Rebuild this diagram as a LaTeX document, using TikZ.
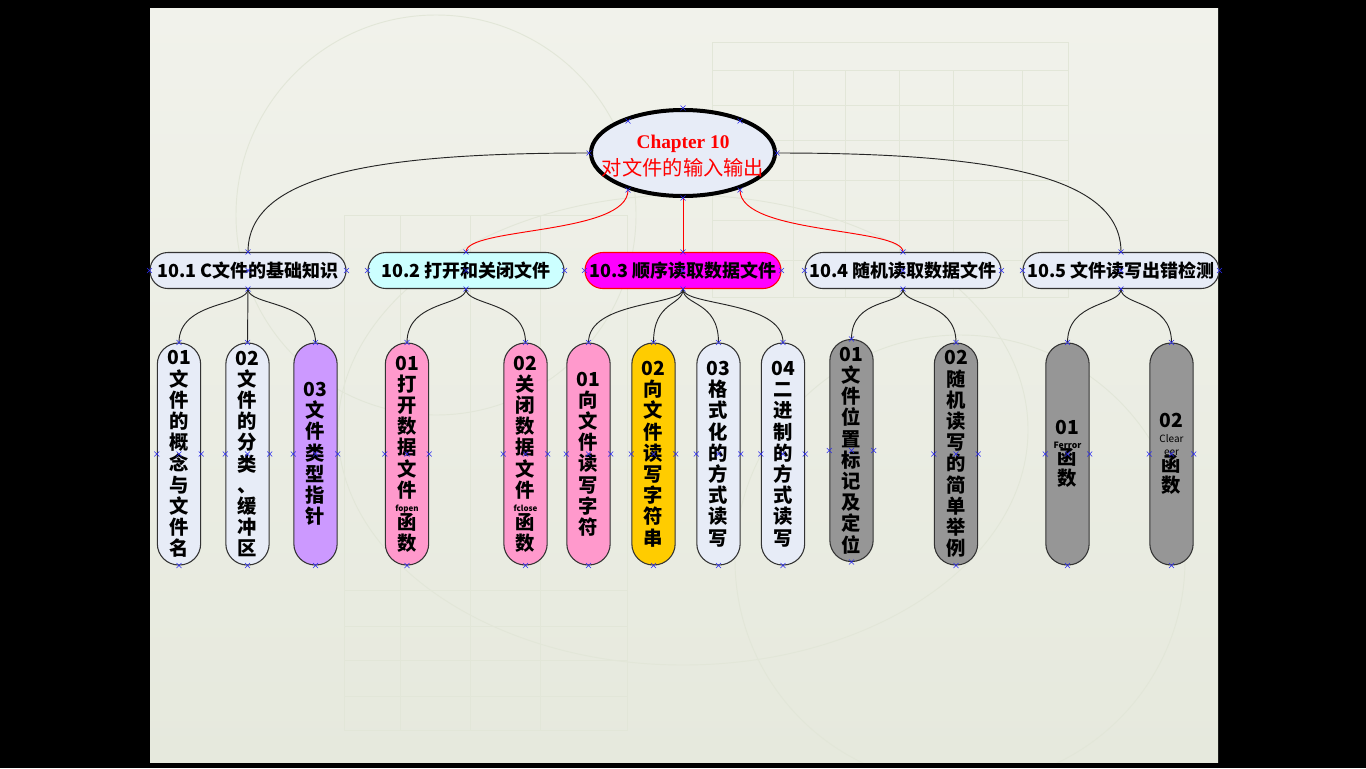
\documentclass[tikz,border=0pt]{standalone}
\usepackage{fontspec}
\setmainfont{Noto Sans CJK SC}
\newfontfamily\serifen{Liberation Serif}
\usetikzlibrary{shapes.geometric,calc}
\definecolor{bgtop}{HTML}{F1F2EB}
\definecolor{bgbot}{HTML}{E6E9DD}
\definecolor{deco}{HTML}{E2E6D8}
\definecolor{lightfill}{HTML}{E7ECF7}
\definecolor{cyanfill}{HTML}{CCFFFF}
\definecolor{magfill}{HTML}{FF00FF}
\definecolor{pinkfill}{HTML}{FF99CC}
\definecolor{purplefill}{HTML}{CC99FF}
\definecolor{goldfill}{HTML}{FFCC00}
\definecolor{grayfill}{HTML}{969696}
\definecolor{edgegray}{HTML}{333333}
\definecolor{handleblue}{HTML}{2A2AF0}
\begin{document}
\begin{tikzpicture}[x=0.75pt,y=-0.75pt,
  lvone/.style={draw=edgegray, line width=0.8pt, rounded corners=13.4pt,
    minimum width=147pt, minimum height=27pt, inner sep=0pt,
    font=\bfseries\fontsize{13.5}{16}\selectfont},
  lvtwo/.style={draw=edgegray, line width=0.8pt, rounded corners=16pt,
    minimum width=32.5pt, minimum height=166.5pt, inner sep=0pt,
    align=center, text width=30pt,
    font=\bfseries\fontsize{14.5}{15.9}\selectfont},
  conn/.style={draw=black!85, line width=0.7pt},
  redconn/.style={draw=red, line width=0.7pt},
  handlec/.style={draw=handleblue, line width=0.4pt}]
\useasboundingbox (0,0) rectangle (1366,768);
\fill[black] (0,0) rectangle (1366,768);
\shade[top color=bgtop, bottom color=bgbot] (150,8) rectangle (1218,762);
% faint background decoration
\begin{scope}
  \clip (150,8) rectangle (1218,762);
  \begin{scope}[deco, line width=0.7pt]
    \draw (436,215) circle [radius=200];
    \draw (683,430) ellipse [x radius=345, y radius=235];
    \draw (960,560) circle [radius=225];
    \draw (712,42) rectangle (1068,297);
    \foreach \xx in {793,845,899,953,1022} \draw (\xx,70) -- (\xx,297);
    \foreach \yy in {70,105,140,180,220,260} \draw (712,\yy) -- (1068,\yy);
    \draw (344,215) rectangle (627,730);
    \foreach \xx in {400,470,540} \draw (\xx,215) -- (\xx,730);
    \foreach \yy in {590,626,660,696} \draw (344,\yy) -- (627,\yy);
  \end{scope}
\end{scope}
% root
\node[ellipse, draw=black, line width=3pt, fill=lightfill, minimum width=138pt,
  minimum height=64.5pt, inner sep=0pt] (root) at (683,153) {};
\node[align=center, text=red, inner sep=0pt] (roottxt) at (683,156)
  {{\serifen\bfseries\fontsize{14.5}{18.75}\selectfont Chapter 10}\\[3pt]
   {\fontsize{15.2}{18.75}\selectfont 对文件的输入输出}};
% level one
\node[lvone, fill=lightfill] (a) at (248,270.5) {10.1 C文件的基础知识};
\node[lvone, fill=cyanfill] (b) at (466,270.5) {10.2 打开和关闭文件};
\node[lvone, fill=magfill, draw=red] (c) at (683,270.5) {10.3 顺序读取数据文件};
\node[lvone, fill=lightfill] (d) at (903,270.5) {10.4 随机读取数据文件};
\node[lvone, fill=lightfill] (e) at (1121,270.5) {10.5 文件读写出错检测};
% level two
\node[lvtwo, fill=lightfill] (a1) at (179,454) {01\\文\\件\\的\\概\\念\\与\\文\\件\\名};
\node[lvtwo, fill=lightfill] (a2) at (247.5,454) {02\\文\\件\\的\\分\\类\\、\\缓\\冲\\区};
\node[lvtwo, fill=purplefill] (a3) at (315.5,454) {03\\文\\件\\类\\型\\指\\针};
\node[lvtwo, fill=pinkfill] (b1) at (407,454) {01\\打\\开\\数\\据\\文\\件\\[-5pt]{\fontsize{6}{7}\selectfont fopen}\\[-3pt]函\\数};
\node[lvtwo, fill=pinkfill] (b2) at (525.5,454) {02\\关\\闭\\数\\据\\文\\件\\[-5pt]{\fontsize{6}{7}\selectfont fclose}\\[-3pt]函\\数};
\node[lvtwo, fill=pinkfill] (c1) at (588.5,454) {01\\向\\文\\件\\读\\写\\字\\符};
\node[lvtwo, fill=goldfill] (c2) at (653.5,454) {02\\向\\文\\件\\读\\写\\字\\符\\串};
\node[lvtwo, fill=lightfill] (c3) at (718.5,454) {03\\格\\式\\化\\的\\方\\式\\读\\写};
\node[lvtwo, fill=lightfill] (c4) at (783,454) {04\\二\\进\\制\\的\\方\\式\\读\\写};
\node[lvtwo, fill=grayfill] (d1) at (851.5,450.5) {01\\文\\件\\位\\置\\标\\记\\及\\定\\位};
\node[lvtwo, fill=grayfill] (d2) at (956,454) {02\\随\\机\\读\\写\\的\\简\\单\\举\\例};
\node[lvtwo, fill=grayfill] (e1) at (1067.5,454) {01\\[-5pt]{\fontsize{6.5}{7}\selectfont Ferror}\\[-4pt]函\\数};
\node[lvtwo, fill=grayfill] (e2) at (1171.5,454) {02\\[-5pt]{\fontsize{7.5}{8}\selectfont\mdseries Clear}\\[-6pt]{\fontsize{7.5}{8}\selectfont\mdseries eer}\\[-4pt]函\\数};
% root connectors
\draw[conn] (root.west) .. controls +(-211,0) and +(0,-78) .. (a.north);
\draw[conn] (root.east) .. controls +(211,0) and +(0,-78) .. (e.north);
\coordinate (rsw) at ($(root.center)+(-55,37)$);
\coordinate (rse) at ($(root.center)+(57,37)$);
\draw[redconn] (rsw) .. controls +(0,45) and +(0,-25) .. (b.north);
\draw[redconn] (rse) .. controls +(0,45) and +(0,-25) .. (d.north);
\draw[redconn] (root.south) -- (c.north);
% level one to level two
\foreach \p/\q in {a/a1,a/a3,b/b1,b/b2,c/c1,c/c2,c/c3,c/c4,d/d1,d/d2,e/e1,e/e2}
  \draw[conn] (\p.south) .. controls +(0,17) and +(0,-42) .. (\q.north);
\draw[conn] (a.south) -- (a2.north);
% selection handles
\foreach \n in {a,b,c,d,e,a1,a2,a3,b1,b2,c1,c2,c3,c4,d1,d2,e1,e2}
  \foreach \an in {north,south,east,west,center}
    \draw[handlec] ($(\n.\an)+(-2.5,-2.5)$) -- +(5,5) ($(\n.\an)+(-2.5,2.5)$) -- +(5,-5);
\foreach \an in {north,south,east,west}
  \draw[handlec] ($(root.\an)+(-2.5,-2.5)$) -- +(5,5) ($(root.\an)+(-2.5,2.5)$) -- +(5,-5);
\foreach \dx/\dy in {-55/37,57/37,-55/-32,57/-32}
  \draw[handlec] ($(root.center)+(\dx-2.5,\dy-2.5)$) -- +(5,5) ($(root.center)+(\dx-2.5,\dy+2.5)$) -- +(5,-5);
\end{tikzpicture}
\end{document}
